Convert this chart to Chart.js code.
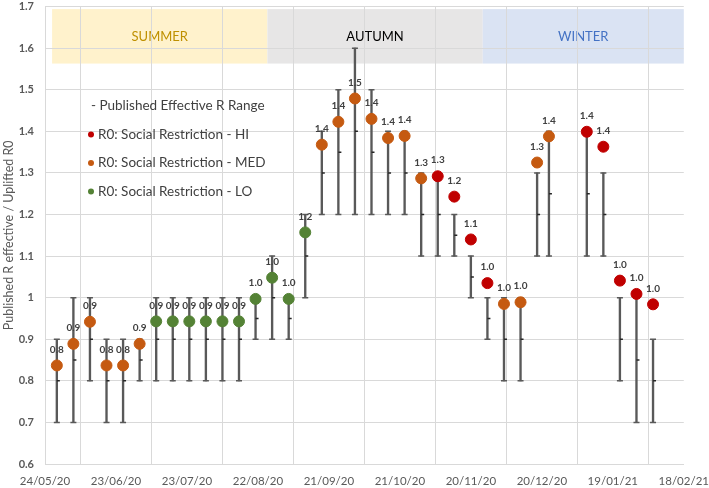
<!DOCTYPE html>
<html>
<head>
<meta charset="utf-8">
<script src="https://cdn.jsdelivr.net/npm/chart.js@4"></script>
<style>
  html, body { margin: 0; padding: 0; background: #fff; }
  #wrap { width: 709px; height: 488px; }
</style>
</head>
<body>
<div id="wrap"><canvas id="rChart" width="709" height="488"></canvas></div>
<script>
// x axis labels, one every 30 days
const tickLabels = ["24/05/20", "23/06/20", "23/07/20", "22/08/20", "21/09/20",
  "21/10/20", "20/11/20", "20/12/20", "19/01/21", "18/02/21"];

// weekly points
const dates = ["29/05/20", "05/06/20", "12/06/20", "19/06/20", "26/06/20", "03/07/20",
  "10/07/20", "17/07/20", "24/07/20", "31/07/20", "07/08/20", "14/08/20",
  "21/08/20", "28/08/20", "04/09/20", "11/09/20", "18/09/20", "25/09/20",
  "02/10/20", "09/10/20", "16/10/20", "23/10/20", "30/10/20", "06/11/20",
  "13/11/20", "20/11/20", "27/11/20", "04/12/20", "11/12/20", "18/12/20",
  "23/12/20", "08/01/21", "15/01/21", "22/01/21", "29/01/21", "05/02/21"];

// uplifted R0
const r0 = [0.837, 0.889, 0.942, 0.837, 0.837, 0.889,
  0.943, 0.943, 0.943, 0.943, 0.943, 0.943,
  0.997, 1.048, 0.997, 1.157, 1.368, 1.423,
  1.479, 1.430, 1.384, 1.389, 1.287, 1.292,
  1.243, 1.140, 1.035, 0.985, 0.989, 1.325,
  1.388, 1.399, 1.363, 1.041, 1.009, 0.984];

// social restriction level of each point
const level = ["MED", "MED", "MED", "MED", "MED", "MED",
  "LO", "LO", "LO", "LO", "LO", "LO",
  "LO", "LO", "LO", "LO", "MED", "MED",
  "MED", "MED", "MED", "MED", "MED", "HI",
  "HI", "HI", "HI", "MED", "MED", "MED",
  "MED", "HI", "HI", "HI", "HI", "HI"];

// published effective R range
const rLow = [0.7, 0.7, 0.8, 0.7, 0.7, 0.8,
  0.8, 0.8, 0.8, 0.8, 0.8, 0.8,
  0.9, 0.9, 0.9, 1.0, 1.2, 1.2,
  1.2, 1.2, 1.2, 1.2, 1.1, 1.1,
  1.1, 1.0, 0.9, 0.8, 0.8, 1.1,
  1.1, 1.1, 1.1, 0.8, 0.7, 0.7];
const rHigh = [0.9, 1.0, 1.0, 0.9, 0.9, 0.9,
  1.0, 1.0, 1.0, 1.0, 1.0, 1.0,
  1.0, 1.1, 1.0, 1.2, 1.4, 1.5,
  1.6, 1.5, 1.4, 1.4, 1.3, 1.3,
  1.2, 1.1, 1.0, 1.0, 1.0, 1.3,
  1.4, 1.4, 1.3, 1.0, 1.0, 0.9];
const rMid = [0.8, 0.85, 0.9, 0.8, 0.8, 0.85,
  0.9, 0.9, 0.9, 0.9, 0.9, 0.9,
  0.95, 1.0, 0.95, 1.1, 1.3, 1.35,
  1.4, 1.35, 1.3, 1.3, 1.2, 1.2,
  1.15, 1.05, 0.95, 0.9, 0.9, 1.2,
  1.25, 1.25, 1.2, 0.9, 0.85, 0.8];

// season bands
const seasons = ["SUMMER", "AUTUMN", "WINTER"];
const seasonFrom = ["27/05/20", "26/08/20", "25/11/20"];
const seasonTo = ["26/08/20", "25/11/20", "18/02/21"];

const levels = ["HI", "MED", "LO"];
const levelNames = ["R0: Social Restriction - HI", "R0: Social Restriction - MED", "R0: Social Restriction - LO"];
const levelColors = ["#C00000", "#C55A11", "#548235"];
const seasonFill = ["#FFF2CC", "#E7E6E6", "#DAE3F3"];
const seasonText = ["#BF9000", "#000000", "#4472C4"];
const barGrey = "#595959";

function toDay(s) {
  const p = s.split("/").map(Number);
  return (Date.UTC(2000 + p[2], p[1] - 1, p[0]) - Date.UTC(2020, 4, 24)) / 864e5;
}

const xs = dates.map(toDay);

const pointSets = levels.map((lv, k) => ({
  type: "scatter",
  label: levelNames[k],
  data: xs.map((x, i) => ({ x: x, y: r0[i], lv: level[i] })).filter((p) => p.lv === lv),
  backgroundColor: levelColors[k],
  borderColor: levelColors[k],
  pointRadius: 5.5,
  order: 0,
}));

// bands and season names, drawn under the grid
const seasonBands = {
  id: "seasonBands",
  beforeDraw(chart) {
    const { ctx, scales: { x, y } } = chart;
    ctx.save();
    seasons.forEach((name, i) => {
      const x0 = x.getPixelForValue(toDay(seasonFrom[i]));
      const x1 = x.getPixelForValue(toDay(seasonTo[i]));
      const y0 = y.getPixelForValue(1.694);
      const y1 = y.getPixelForValue(1.563);
      ctx.fillStyle = seasonFill[i];
      ctx.fillRect(x0, y0, x1 - x0, y1 - y0);
      ctx.fillStyle = seasonText[i];
      ctx.font = "13px Lato";
      ctx.textAlign = "center";
      ctx.textBaseline = "middle";
      ctx.fillText(name, (x0 + x1) / 2, y0 + 28);
    });
    ctx.restore();
  },
};

// value labels above points, plus the legend inside the plot
const labelsAndLegend = {
  id: "labelsAndLegend",
  afterDatasetsDraw(chart) {
    const ctx = chart.ctx;
    ctx.save();
    ctx.font = "bold 10px Lato";
    ctx.fillStyle = "#404040";
    ctx.textAlign = "center";
    ctx.textBaseline = "middle";
    levels.forEach((lv, k) => {
      const meta = chart.getDatasetMeta(k);
      meta.data.forEach((el, j) => {
        const v = chart.data.datasets[k].data[j].y;
        ctx.fillText(v.toFixed(1), el.x, el.y - 16);
      });
    });

    const lx = 91, ly = 106, step = 28.5;
    ctx.font = "13.5px Lato";
    ctx.textAlign = "left";
    ctx.fillStyle = "#404040";
    ctx.fillText("- Published Effective R Range", lx, ly);
    levelNames.forEach((name, k) => {
      const yy = ly + step * (k + 1);
      ctx.beginPath();
      ctx.arc(lx, yy, 3, 0, Math.PI * 2);
      ctx.fillStyle = levelColors[k];
      ctx.fill();
      ctx.fillStyle = "#404040";
      ctx.fillText(name, lx + 7, yy);
    });
    ctx.restore();
  },
};

const ctx = document.getElementById("rChart").getContext("2d");
new Chart(ctx, {
  type: "scatter",
  data: {
    datasets: [
      ...pointSets,
      {
        type: "scatter",
        label: "caps",
        data: xs.map((x, i) => ({ x: x, y: rLow[i] })).concat(xs.map((x, i) => ({ x: x, y: rHigh[i] }))),
        pointStyle: "line",
        pointRadius: 3,
        borderColor: barGrey,
        borderWidth: 1.5,
        order: 1,
      },
      {
        type: "scatter",
        label: "mid",
        data: xs.map((x, i) => ({ x: x, y: rMid[i] })),
        pointStyle: "dash",
        pointRadius: 3,
        borderColor: "#262626",
        borderWidth: 1.5,
        order: 1,
      },
      {
        type: "bar",
        label: "Published Effective R Range",
        data: xs.map((x, i) => ({ x: x, y: [rLow[i], rHigh[i]] })),
        backgroundColor: barGrey,
        barThickness: 1.7,
        order: 2,
      },
    ],
  },
  options: {
    responsive: false,
    animation: false,
    events: [],
    layout: { padding: 0 },
    plugins: {
      legend: { display: false },
      tooltip: { enabled: false },
    },
    scales: {
      x: {
        type: "linear",
        min: 0,
        max: 270,
        offset: false,
        afterFit: (s) => { s.height = 24; },
        ticks: {
          stepSize: 30,
          padding: 0,
          color: "#595959",
          font: { family: "Lato", size: 11.5 },
          maxRotation: 0,
          callback: (v) => tickLabels[Math.round(v / 30)],
        },
        // invisible tick marks only push the labels down
        grid: { color: "#D9D9D9", drawTicks: true, tickLength: 10, tickColor: "rgba(0,0,0,0)" },
        border: { color: "#D9D9D9" },
      },
      y: {
        min: 0.6,
        max: 1.7,
        afterFit: (s) => { s.width = 45; },
        ticks: {
          stepSize: 0.1,
          padding: 0,
          color: "#595959",
          font: { family: "Lato", size: 11, weight: "bold" },
          callback: (v) => (Math.abs(v - 1) < 1e-9 ? "1" : v.toFixed(1)),
        },
        grid: { color: "#D9D9D9", drawTicks: true, tickLength: 11, tickColor: "rgba(0,0,0,0)" },
        border: { color: "#D9D9D9" },
        title: {
          display: true,
          text: "Published R effective / Uplifted R0",
          color: "#595959",
          font: { family: "Lato", size: 12.5 },
          padding: { top: 1, bottom: 0 },
        },
      },
    },
  },
  plugins: [seasonBands, labelsAndLegend],
});
</script>
</body>
</html>
